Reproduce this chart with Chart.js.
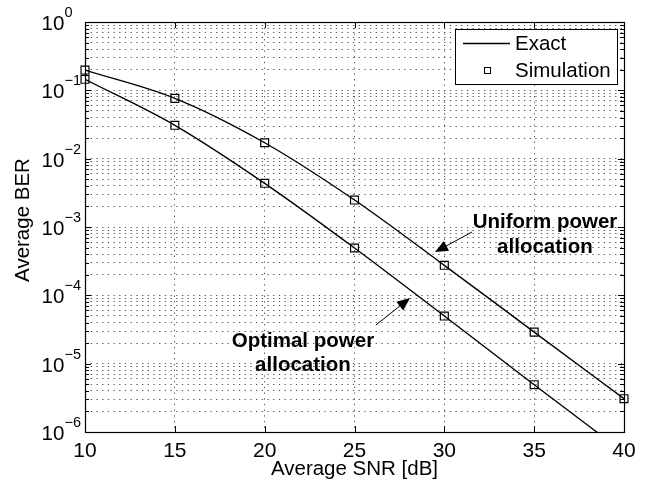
<!DOCTYPE html>
<html><head><meta charset="utf-8">
<script src="https://cdn.jsdelivr.net/npm/chart.js@4/dist/chart.umd.min.js"></script>
<style>
html,body{margin:0;padding:0;background:#fff;}
#wrap{width:648px;height:483px;position:relative;}
</style>
</head><body>
<div id="wrap"><canvas id="c" width="648" height="483"></canvas></div>
<script>
// ---- data ----
const snrDb        = [10, 15, 20, 25, 30, 35, 40];
const uniformExact = [0.198, 0.0764, 0.0171, 0.00248, 2.75e-4, 2.9e-5, 3.07e-6];
const optimalExact = [0.145, 0.0308, 0.00436, 4.93e-4, 4.98e-5, 4.92e-6, 5.0e-7];
const uniformSim   = [0.198, 0.0764, 0.0171, 0.00248, 2.75e-4, 2.9e-5, 3.07e-6];
const optimalSim   = [0.145, 0.0308, 0.00436, 4.93e-4, 4.98e-5, 4.92e-6, null];
const xTickValues  = [10, 15, 20, 25, 30, 35, 40];
const yDecadeExps  = [-6, -5, -4, -3, -2, -1, 0];
const legendLabels = ['Exact', 'Simulation'];
const xTitle = 'Average SNR [dB]';
const yTitle = 'Average BER';
const uniformNote = ['Uniform power', 'allocation'];
const optimalNote = ['Optimal power', 'allocation'];

const FONT = '"Liberation Sans", Arial, Helvetica, sans-serif';

function pts(xs, ys){ return xs.map((x,i)=>({x:x, y:ys[i]})); }

const decoPlugin = {
  id: 'deco',
  afterDatasetsDraw(chart){
    const ctx = chart.ctx, a = chart.chartArea;
    const xs = chart.scales.x, ys = chart.scales.y;
    ctx.save();
    ctx.strokeStyle = '#000'; ctx.fillStyle = '#000'; ctx.lineWidth = 1;
    ctx.beginPath();
    xTickValues.forEach(v=>{
      const px = Math.round(xs.getPixelForValue(v)) + 0.5;
      ctx.moveTo(px, a.bottom); ctx.lineTo(px, a.bottom - 6);
      ctx.moveTo(px, a.top); ctx.lineTo(px, a.top + 6);
    });
    ys.ticks.forEach(t=>{
      const py = Math.round(ys.getPixelForValue(t.value)) + 0.5;
      const lg = Math.log10(t.value);
      const len = Math.abs(lg - Math.round(lg)) < 1e-6 ? 6 : 4;
      ctx.moveTo(a.left, py); ctx.lineTo(a.left + len, py);
      ctx.moveTo(a.right, py); ctx.lineTo(a.right - len, py);
    });
    ctx.stroke();
    ctx.lineWidth = 1.2;
    ctx.strokeRect(Math.round(a.left)+0.5, Math.round(a.top)+0.5, Math.round(a.right-a.left), Math.round(a.bottom-a.top));
    ctx.restore();
  },
  afterDraw(chart){
    const ctx = chart.ctx, a = chart.chartArea;
    const xs = chart.scales.x, ys = chart.scales.y;
    ctx.save();
    ctx.fillStyle = '#000'; ctx.strokeStyle = '#000';
    ctx.font = '21px ' + FONT; ctx.textAlign = 'center'; ctx.textBaseline = 'alphabetic';
    xTickValues.forEach(v=>{
      ctx.fillText(String(v), xs.getPixelForValue(v), a.bottom + 25);
    });
    yDecadeExps.forEach(e=>{
      const py = ys.getPixelForValue(Math.pow(10, e));
      ctx.font = '20.5px ' + FONT; ctx.textAlign = 'left';
      ctx.fillText('10', 41.5, py + 8);
      ctx.font = '14.5px ' + FONT;
      ctx.fillText(e < 0 ? '\u2212' + Math.abs(e) : String(e), 64.5, py - 5);
    });
    ctx.font = '20.5px ' + FONT; ctx.textAlign = 'center';
    ctx.fillText(xTitle, (a.left + a.right)/2, 475);
    ctx.save();
    ctx.translate(29, 220); ctx.rotate(-Math.PI/2);
    ctx.fillText(yTitle, 0, 0);
    ctx.restore();
    ctx.font = 'bold 20.5px ' + FONT; ctx.textAlign = 'center';
    const ux = xs.getPixelForValue(35.6), uy = ys.getPixelForValue(9.66e-4);
    ctx.fillText(uniformNote[0], ux, uy); ctx.fillText(uniformNote[1], ux, uy + 25);
    const ox = xs.getPixelForValue(22.13), oy = ys.getPixelForValue(1.75e-5);
    ctx.fillText(optimalNote[0], ox, oy); ctx.fillText(optimalNote[1], ox, oy + 24);
    function arrow(x1,y1,x2,y2){
      const X1 = xs.getPixelForValue(x1), Y1 = ys.getPixelForValue(y1);
      const X2 = xs.getPixelForValue(x2), Y2 = ys.getPixelForValue(y2);
      const ang = Math.atan2(Y2-Y1, X2-X1), L = 13, W = 5.5;
      ctx.lineWidth = 1;
      ctx.beginPath(); ctx.moveTo(X1,Y1); ctx.lineTo(X2 - Math.cos(ang)*L*0.8, Y2 - Math.sin(ang)*L*0.8); ctx.stroke();
      ctx.beginPath();
      ctx.moveTo(X2, Y2);
      ctx.lineTo(X2 - Math.cos(ang)*L - Math.sin(ang)*W, Y2 - Math.sin(ang)*L + Math.cos(ang)*W);
      ctx.lineTo(X2 - Math.cos(ang)*L + Math.sin(ang)*W, Y2 - Math.sin(ang)*L - Math.cos(ang)*W);
      ctx.closePath(); ctx.fill();
    }
    arrow(31.54, 8.45e-4, 29.48, 4.3e-4);
    arrow(26.19, 3.68e-5, 28.09, 9.14e-5);
    const lx = 455, ly = 29, lw = 162, lh = 55;
    ctx.fillStyle = '#fff'; ctx.fillRect(lx, ly, lw, lh);
    ctx.strokeStyle = '#000'; ctx.lineWidth = 1;
    ctx.strokeRect(lx + 0.5, ly + 0.5, lw, lh);
    ctx.fillStyle = '#000';
    ctx.lineWidth = 1.3;
    ctx.beginPath(); ctx.moveTo(463, 43.5); ctx.lineTo(510, 43.5); ctx.stroke();
    ctx.lineWidth = 1;
    ctx.strokeRect(484.5, 67.5, 6, 6);
    ctx.font = '20.5px ' + FONT; ctx.textAlign = 'left'; ctx.textBaseline = 'middle';
    ctx.fillText(legendLabels[0], 515, 44);
    ctx.fillText(legendLabels[1], 515, 71);
    ctx.restore();
  }
};

const minorTicks = [];
yDecadeExps.forEach(e=>{
  if (e === 0) { minorTicks.push(1); return; }
  for (let k = 1; k <= 9; k++) minorTicks.push(k * Math.pow(10, e));
});

const lineDs = (data) => ({
  data: data, borderColor: '#000', borderWidth: 1.4, pointRadius: 0,
  cubicInterpolationMode: 'monotone', fill: false, spanGaps: false
});
const simDs = (data) => ({
  data: data, showLine: false, pointStyle: 'rect', pointRadius: 5.6, clip: false,
  borderColor: '#000', borderWidth: 1.2, backgroundColor: 'rgba(0,0,0,0)',
  pointBackgroundColor: 'rgba(0,0,0,0)', pointBorderColor: '#000', pointBorderWidth: 1.2
});

new Chart(document.getElementById('c'), {
  type: 'line',
  data: {
    datasets: [
      lineDs(pts(snrDb, uniformExact)),
      lineDs(pts(snrDb, optimalExact)),
      simDs(pts(snrDb, uniformSim)),
      simDs(pts(snrDb, optimalSim))
    ]
  },
  options: {
    responsive: false, animation: false, devicePixelRatio: 1,
    layout: { padding: { left: 85, right: 24, top: 22, bottom: 51 } },
    plugins: { legend: { display: false }, tooltip: { enabled: false } },
    scales: {
      x: {
        type: 'linear', min: 10, max: 40,
        ticks: { display: false, stepSize: 5 },
        grid: { color: '#555', lineWidth: 1, drawTicks: false },
        border: { display: false, dash: [1.3, 4.4] }
      },
      y: {
        type: 'logarithmic', min: 1e-6, max: 1,
        afterBuildTicks: (s) => { s.ticks = minorTicks.map(v => ({ value: v })); },
        ticks: { display: false },
        grid: { color: '#555', lineWidth: 1, drawTicks: false },
        border: { display: false, dash: [1.3, 4.4] }
      }
    }
  },
  plugins: [decoPlugin]
});
</script>
</body></html>
